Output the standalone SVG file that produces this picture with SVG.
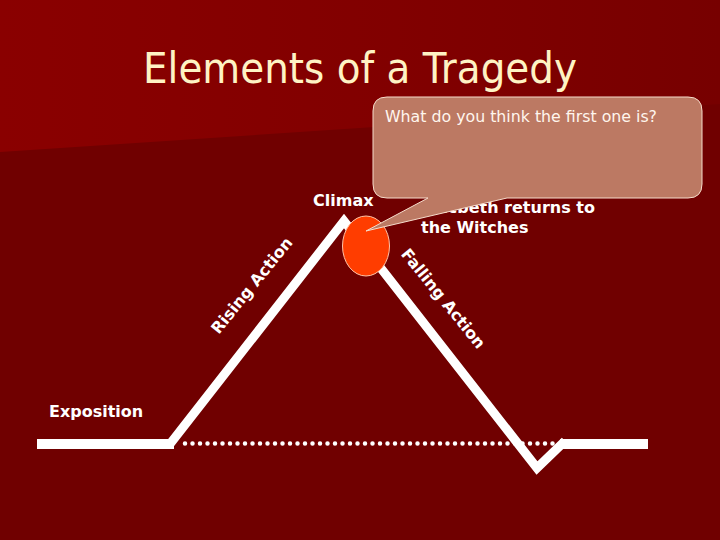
<svg xmlns="http://www.w3.org/2000/svg" width="720" height="540" viewBox="0 0 720 540">
  <defs>
    <linearGradient id="bgTop" x1="0" y1="0" x2="1" y2="0">
      <stop offset="0" stop-color="#8a0000"/>
      <stop offset="0.55" stop-color="#810000"/>
      <stop offset="1" stop-color="#770000"/>
    </linearGradient>
    <style>
      .lbl { font-family: "DejaVu Sans", Verdana, sans-serif; font-weight: bold; font-size: 16px; fill: #ffffff; }
      .title { font-family: "DejaVu Sans", Tahoma, sans-serif; font-size: 43px; fill: #fff3c4; }
      .callText { font-family: "DejaVu Sans", Tahoma, sans-serif; font-size: 16px; fill: #fff6ee; }
      .flat { fill: none; stroke: #ffffff; stroke-width: 10; }
      .plot { fill: none; stroke: #ffffff; stroke-width: 9; stroke-linejoin: miter; stroke-miterlimit: 10; }
      .dots { fill: none; stroke: #ffffff; stroke-width: 4.5; stroke-linecap: round; stroke-dasharray: 0 7.5; }
    </style>
  </defs>

  <!-- background -->
  <rect x="0" y="0" width="720" height="540" fill="#700000"/>
  <polygon points="0,0 720,0 720,104 0,152" fill="url(#bgTop)"/>

  <g id="title">
    <text class="title" x="143" y="83" textLength="434" lengthAdjust="spacingAndGlyphs">Elements of a Tragedy</text>
  </g>

  <g id="connectors">
    <line class="dots" x1="185" y1="443.5" x2="560" y2="443.5"/>
    <line class="flat" x1="37" y1="444" x2="174" y2="444"/>
    <line class="flat" x1="560" y1="444" x2="648" y2="444"/>
    <polyline class="plot" points="170,444 344,221 537,468 565,441"/>
  </g>

  <g id="exposition">
    <text class="lbl" x="49" y="417">Exposition</text>
  </g>

  <g id="rising-action">
    <text class="lbl" text-anchor="middle" transform="translate(256,289) rotate(-51)">Rising Action</text>
  </g>

  <g id="falling-action">
    <text class="lbl" text-anchor="middle" transform="translate(439,302) rotate(51)">Falling Action</text>
  </g>

  <g id="climax-label">
    <text class="lbl" x="313" y="206">Climax</text>
  </g>

  <g id="climax-note">
    <text class="lbl" x="421" y="213">Macbeth returns to</text>
    <text class="lbl" x="421" y="233">the Witches</text>
  </g>

  <g id="climax">
    <ellipse cx="366" cy="246" rx="23.5" ry="30" fill="#ff3d00" stroke="#ffc4a8" stroke-width="1"/>
  </g>

  <g id="callout">
    <path d="M387,97 H688 Q702,97 702,111 V184 Q702,198 688,198 H507 L366,231 L428,198 H387 Q373,198 373,184 V111 Q373,97 387,97 Z" fill="#bc7963" stroke="#f6dccb" stroke-width="1"/>
    <text class="callText" x="385" y="121.5" textLength="272" lengthAdjust="spacingAndGlyphs">What do you think the first one is?</text>
  </g>
</svg>
